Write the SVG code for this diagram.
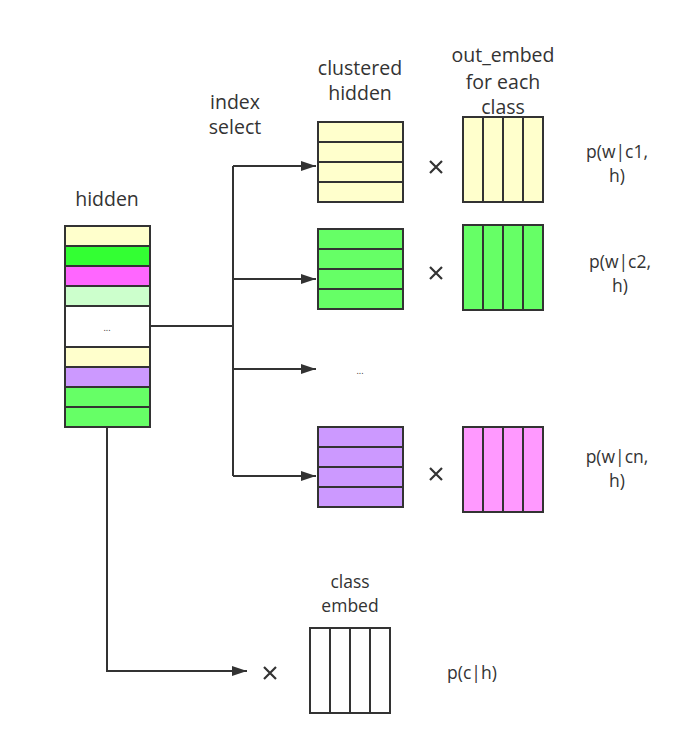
<svg xmlns="http://www.w3.org/2000/svg" width="691" height="745" viewBox="0 0 691 745">
<style>
.t{font-family:"Open Sans","Noto Sans","DejaVu Sans",sans-serif;font-size:19.5px;fill:#333;text-anchor:middle}
.p{font-family:"Open Sans","Noto Sans","DejaVu Sans",sans-serif;font-size:17.5px;fill:#333;text-anchor:middle}
.s{font-family:"Open Sans","Noto Sans",sans-serif;font-size:9px;fill:#333;text-anchor:middle}
.c{stroke:#333;stroke-width:2}
.ln{fill:none;stroke:#333;stroke-width:2}
.x{stroke:#333;stroke-width:2.2;fill:none}
</style>
<defs>
<marker id="ah" markerUnits="userSpaceOnUse" markerWidth="16" markerHeight="12" refX="15" refY="6" orient="auto">
<path d="M0,1 L15,6 L0,11 z" fill="#333"/>
</marker>
</defs>
<rect width="691" height="745" fill="#fff"/>

<g id="hidden">
<text class="t" x="107" y="206">hidden</text>
<rect class="c" x="65" y="226" width="85" height="20" fill="#FFFFCC"/>
<rect class="c" x="65" y="246" width="85" height="20" fill="#33FF33"/>
<rect class="c" x="65" y="266" width="85" height="20" fill="#FF66FF"/>
<rect class="c" x="65" y="286" width="85" height="20" fill="#CCFFCC"/>
<rect class="c" x="65" y="306" width="85" height="41" fill="#FFFFFF"/>
<rect class="c" x="65" y="347" width="85" height="20" fill="#FFFFCC"/>
<rect class="c" x="65" y="367" width="85" height="20" fill="#CC99FF"/>
<rect class="c" x="65" y="387" width="85" height="20" fill="#66FF66"/>
<rect class="c" x="65" y="407" width="85" height="20" fill="#66FF66"/>
<text class="s" x="107" y="331">...</text>
</g>

<g id="index-select">
<text class="t" x="235" y="109">index<tspan x="235" dy="25">select</tspan></text>
</g>

<g id="clustered1">
<text class="t" x="360" y="75">clustered<tspan x="360" dy="25">hidden</tspan></text>
<rect class="c" x="318" y="122" width="85" height="20" fill="#FFFFCC"/>
<rect class="c" x="318" y="142" width="85" height="20" fill="#FFFFCC"/>
<rect class="c" x="318" y="162" width="85" height="20" fill="#FFFFCC"/>
<rect class="c" x="318" y="182" width="85" height="20" fill="#FFFFCC"/>
</g>
<g id="embed1">
<text class="t" x="503" y="62">out_embed<tspan x="503" dy="27">for each</tspan><tspan x="503" dy="25">class</tspan></text>
<rect class="c" x="463" y="117" width="20" height="85" fill="#FFFFCC"/>
<rect class="c" x="483" y="117" width="20" height="85" fill="#FFFFCC"/>
<rect class="c" x="503" y="117" width="20" height="85" fill="#FFFFCC"/>
<rect class="c" x="523" y="117" width="20" height="85" fill="#FFFFCC"/>
<path class="x" d="M430,161 L442,173 M442,161 L430,173"/>
<text class="p" x="617" y="158">p(w|c1,<tspan x="617" dy="24">h)</tspan></text>
</g>

<g id="clustered2">
<rect class="c" x="318" y="229" width="85" height="20" fill="#66FF66"/>
<rect class="c" x="318" y="249" width="85" height="20" fill="#66FF66"/>
<rect class="c" x="318" y="269" width="85" height="20" fill="#66FF66"/>
<rect class="c" x="318" y="289" width="85" height="20" fill="#66FF66"/>
</g>
<g id="embed2">
<rect class="c" x="463" y="225" width="20" height="85" fill="#66FF66"/>
<rect class="c" x="483" y="225" width="20" height="85" fill="#66FF66"/>
<rect class="c" x="503" y="225" width="20" height="85" fill="#66FF66"/>
<rect class="c" x="523" y="225" width="20" height="85" fill="#66FF66"/>
<path class="x" d="M430,267 L442,279 M442,267 L430,279"/>
<text class="p" x="620" y="268">p(w|c2,<tspan x="620" dy="24">h)</tspan></text>
</g>

<g id="ellipsis">
<text class="s" x="360" y="374">...</text>
</g>

<g id="clusteredn">
<rect class="c" x="318" y="427" width="85" height="20" fill="#CC99FF"/>
<rect class="c" x="318" y="447" width="85" height="20" fill="#CC99FF"/>
<rect class="c" x="318" y="467" width="85" height="20" fill="#CC99FF"/>
<rect class="c" x="318" y="487" width="85" height="20" fill="#CC99FF"/>
</g>
<g id="embedn">
<rect class="c" x="463" y="427" width="20" height="85" fill="#FF99FF"/>
<rect class="c" x="483" y="427" width="20" height="85" fill="#FF99FF"/>
<rect class="c" x="503" y="427" width="20" height="85" fill="#FF99FF"/>
<rect class="c" x="523" y="427" width="20" height="85" fill="#FF99FF"/>
<path class="x" d="M430,468 L442,480 M442,468 L430,480"/>
<text class="p" x="617" y="463">p(w|cn,<tspan x="617" dy="24">h)</tspan></text>
</g>

<g id="class-embed">
<text class="p" x="350" y="588">class<tspan x="350" dy="24">embed</tspan></text>
<rect class="c" x="310" y="628" width="20" height="85" fill="#FFFFFF"/>
<rect class="c" x="330" y="628" width="20" height="85" fill="#FFFFFF"/>
<rect class="c" x="350" y="628" width="20" height="85" fill="#FFFFFF"/>
<rect class="c" x="370" y="628" width="20" height="85" fill="#FFFFFF"/>
<path class="x" d="M264,667 L276,679 M276,667 L264,679"/>
<text class="p" x="472" y="679">p(c|h)</text>
</g>

<g id="connectors">
<path class="ln" d="M150,326 H233"/>
<path class="ln" d="M233,166 V476"/>
<path class="ln" d="M233,166 H316" marker-end="url(#ah)"/>
<path class="ln" d="M233,279 H316" marker-end="url(#ah)"/>
<path class="ln" d="M233,369 H316" marker-end="url(#ah)"/>
<path class="ln" d="M233,476 H316" marker-end="url(#ah)"/>
<path class="ln" d="M107,427 V671 H247" marker-end="url(#ah)"/>
</g>
</svg>
